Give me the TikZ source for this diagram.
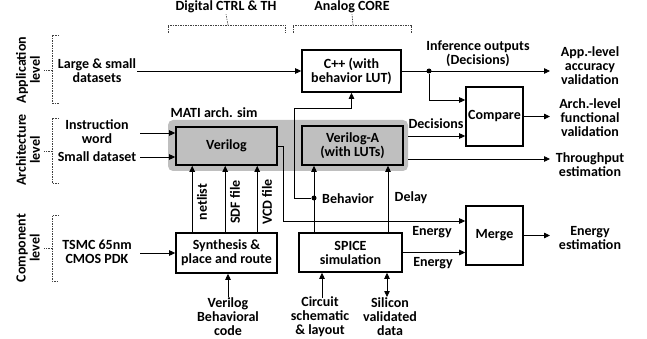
\documentclass[tikz,border=0pt]{standalone}
\usepackage{fontspec}
\setmainfont{Carlito}
\usetikzlibrary{arrows.meta}
\begin{document}
\begin{tikzpicture}[x=1pt,y=-1pt,
  every node/.style={font=\bfseries\fontsize{14}{14}\selectfont, align=center, inner sep=1pt},
  box/.style={draw, line width=1.6pt, inner sep=0pt},
  graybox/.style={box, fill=black!25},
  arr/.style={-{Triangle[length=6pt,width=5.5pt]}, line width=0.8pt},
  darr/.style={{Triangle[length=6pt,width=5.5pt]}-{Triangle[length=6pt,width=5.5pt]}, line width=0.8pt},
  brace/.style={draw=black!75, line width=0.6pt, dash pattern=on 1.5pt off 1pt},
  dot/.style={circle, fill, inner sep=0pt, minimum size=5pt},
  region/.style={fill=black!25, rounded corners=5pt, inner sep=0pt}]
\useasboundingbox (0,0) rectangle (647,339);
% gray region
\node[region, minimum width=240pt, minimum height=51pt] (matireg) at (288,145.5) {};
% boxes
\node[box, minimum width=99pt, minimum height=42pt] (cpp) at (351.5,71) {C++ (with\\behavior LUT)};
\node[box, minimum width=57pt, minimum height=59pt] (cmp) at (494.5,116.5) {Compare};
\node[graybox, minimum width=101pt, minimum height=38pt] (vlog) at (226.5,146) {Verilog};
\node[graybox, minimum width=101pt, minimum height=39pt] (vloga) at (352.5,145.5) {Verilog-A\\(with LUTs)};
\node[box, minimum width=101pt, minimum height=40pt] (syn) at (226.5,253) {Synthesis \&\\place and route};
\node[box, minimum width=103pt, minimum height=39pt] (spice) at (350.5,252.5) {SPICE\\simulation};
\node[box, minimum width=57pt, minimum height=59pt] (merge) at (494.5,235.5) {Merge};
% text labels
\node (lsd) at (97,71) {Large \& small\\datasets};
\node (iw) at (97,132) {Instruction\\word};
\node (sd) at (97,157) {Small dataset};
\node (tsmc) at (97,252) {TSMC 65nm\\CMOS PDK};
\node (vbc) at (228,317) {Verilog\\Behavioral\\code};
\node (csl) at (320,317) {Circuit\\schematic\\\& layout};
\node (svd) at (390,317) {Silicon\\validated\\data};
\node (inf) at (478,54) {Inference outputs\\(Decisions)};
\node (app) at (590,66) {App.-level\\accuracy\\validation};
\node (archv) at (590,118) {Arch.-level\\functional\\validation};
\node (thr) at (590,165) {Throughput\\estimation};
\node (ene) at (590,238) {Energy\\estimation};
\node (dec) at (436,124) {Decisions};
\node (beh) at (348,199) {Behavior};
\node (del) at (411,198) {Delay};
\node (en1) at (432,232) {Energy};
\node (en2) at (433,263) {Energy};
\node (mati) at (214,113) {MATI arch. sim};
\node (dig) at (226,7) {Digital CTRL \& TH};
\node (ana) at (352,7) {Analog CORE};
\node[rotate=90] (lapp) at (28,70) {Application\\level};
\node[rotate=90] (larch) at (28,150) {Architecture\\level};
\node[rotate=90] (lcomp) at (28,248) {Component\\level};
\node[rotate=90] (nl) at (202,202) {netlist};
\node[rotate=90] (sdf) at (235,202) {SDF file};
\node[rotate=90] (vcd) at (267,202) {VCD file};
% braces
\draw[brace] (168,33) -- (168,25) -- (285,25) -- (285,33);
\draw[brace] (228,25) -- (dig.south);
\draw[brace] (293,33) -- (293,25) -- (411,25) -- (411,33);
\draw[brace] (353,25) -- (ana.south);
\draw[brace] (59,35) -- (52,35) -- (52,103) -- (59,103);
\draw[brace] (52,70) -- (44,70);
\draw[brace] (59,118) -- (52,118) -- (52,183) -- (59,183);
\draw[brace] (52,151) -- (44,151);
\draw[brace] (59,215) -- (52,215) -- (52,281) -- (59,281);
\draw[brace] (52,248) -- (44,248);
% coordinates
\coordinate (iwS) at (140,133);
\coordinate (sdS) at (140,157);
\coordinate (tsS) at (140,253);
\coordinate (cslT) at (322,298);
\coordinate (svdT) at (387,297);
\coordinate (bturn) at (294,108);
\coordinate (dly) at (388,200);
\coordinate (ecorner) at (283,221);
\coordinate (eout) at (550,235.5);
\coordinate (appout) at (550,71);
\coordinate (cturn) at (429,100);
\coordinate (archout) at (550,118);
\coordinate (va1) at (408,136);
\coordinate (va2) at (408,159);
\coordinate (thrOut) at (550,159);
\node[dot] (bdot) at (314,198) {};
\node[dot] (idot) at (429,71) {};
% connectors
\draw[arr] (lsd.east) -- (cpp.west);
\draw[arr] (iwS) -- (iwS -| vlog.west);
\draw[arr] (sdS) -- (sdS -| vlog.west);
\draw[arr] (tsS) -- (tsS -| syn.west);
\draw[arr] (vbc.north) -- (vbc.north |- syn.south);
\draw[arr] (cslT) -- (cslT |- spice.south);
\draw[darr] (svdT) -- (svdT |- spice.south);
\draw[arr] ([xshift=17pt]syn.north west) -- ([xshift=17pt]vlog.south west);
\draw[arr] ([xshift=50pt]syn.north west) -- ([xshift=50pt]vlog.south west);
\draw[arr] ([xshift=82pt]syn.north west) -- ([xshift=82pt]vlog.south west);
\draw[arr] (bdot |- spice.north) -- (bdot |- vloga.south);
\draw[arr] (bdot) -- (bdot -| bturn) -- (bturn) -- (bturn -| cpp.south) -- (cpp.south);
\draw[arr] (dly |- spice.north) -- (dly |- vloga.south);
\draw[arr] (vlog.east) -- (vlog.east -| ecorner) -- (ecorner) -- (ecorner -| merge.west);
\draw[arr] (spice.east) -- (spice.east -| merge.west);
\draw[arr] (merge.east) -- (eout);
\draw[arr] (cpp.east) -- (appout);
\draw[arr] (idot) -- (cturn) -- (cturn -| cmp.west);
\draw[arr] (cmp.east) -- (cmp.east -| archout);
\draw[arr] (va1) -- (va1 -| cmp.west);
\draw[arr] (va2) -- (thrOut);
\end{tikzpicture}
\end{document}
